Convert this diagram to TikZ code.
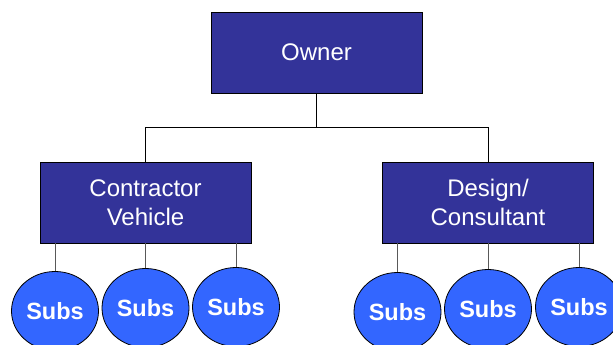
\documentclass[tikz,border=0pt]{standalone}
\usepackage{fontspec}
\setmainfont{Liberation Sans}
\usetikzlibrary{shapes.geometric}
\definecolor{boxblue}{HTML}{333399}
\definecolor{subblue}{HTML}{3366FF}
\tikzset{
  rolebox/.style={draw=black, line width=0.9pt, fill=boxblue, text=white,
    minimum width=211pt, minimum height=81pt, inner sep=0pt, align=center,
    font=\fontsize{24}{29}\selectfont},
  subnode/.style={ellipse, draw=black, line width=0.8pt, fill=subblue, text=white,
    minimum width=87pt, minimum height=79pt, inner sep=0pt,
    font=\fontsize{23.5}{28}\selectfont\bfseries},
  treeline/.style={draw=black, line width=0.9pt},
  subline/.style={draw=black!65, line width=0.9pt}
}
\begin{document}
\begin{tikzpicture}[x=1pt,y=-1pt]
\useasboundingbox (0,0) rectangle (613,345);
\fill[white] (0,0) rectangle (613,345);

% top level
\node[rolebox] (owner) at (316.5,52.5) {Owner};

% second level
\node[rolebox] (cv) at (145.5,202.5) {Contractor\\Vehicle};
\node[rolebox] (dc) at (488,202.5) {Design/\\Consultant};

% bus between levels
\coordinate (bus) at (316.5,127);
\draw[treeline] (owner.south) -- (owner.south |- bus);
\draw[treeline] (cv.north) -- (cv.north |- bus) -- (dc.north |- bus) -- (dc.north);

% subcontractors
\node[subnode] (s1) at (55,311) {Subs};
\node[subnode] (s2) at (145.5,308) {Subs};
\node[subnode] (s3) at (236,307) {Subs};
\node[subnode] (s4) at (397.5,312) {Subs};
\node[subnode] (s5) at (488,309) {Subs};
\node[subnode] (s6) at (579,307) {Subs};

\foreach \s in {s1,s2,s3} \draw[subline] (\s.north) -- (\s.north |- cv.south);
\foreach \s in {s4,s5,s6} \draw[subline] (\s.north) -- (\s.north |- dc.south);
\end{tikzpicture}
\end{document}
